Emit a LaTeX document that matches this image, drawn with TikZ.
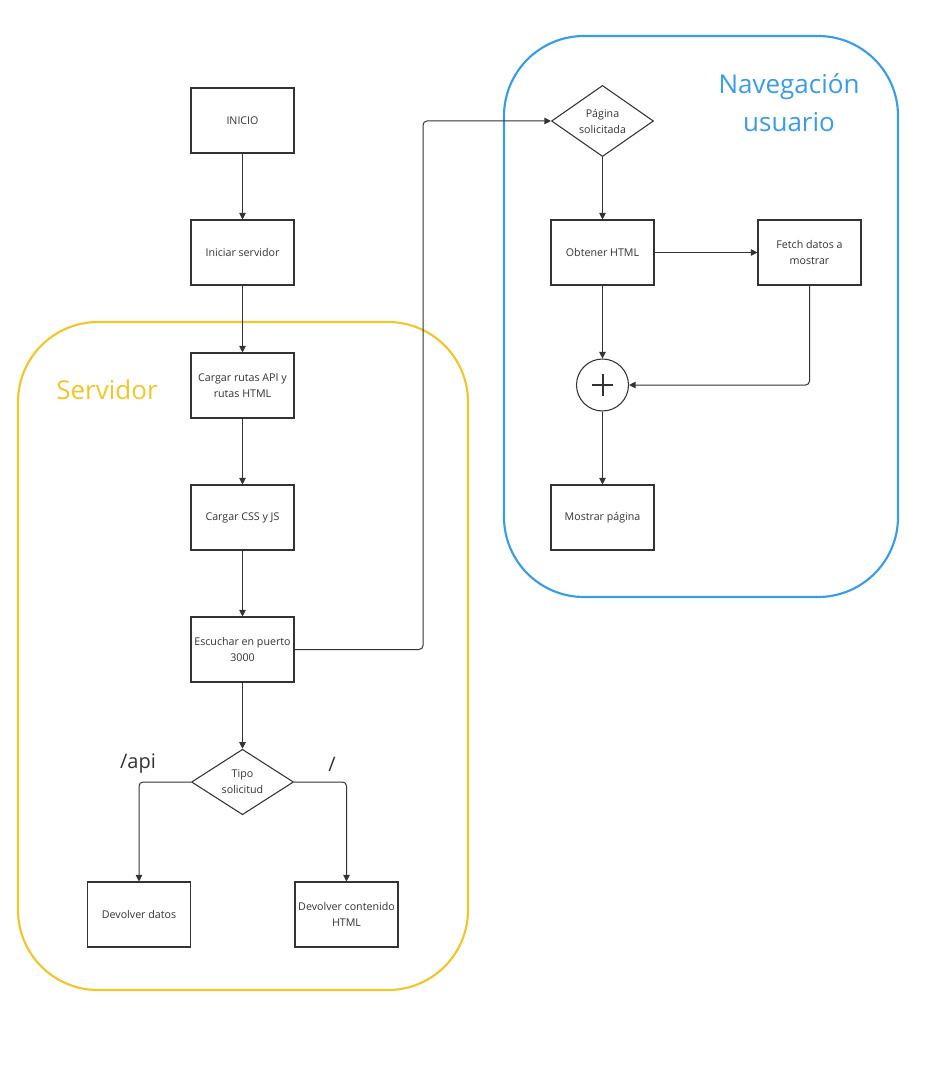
\documentclass[tikz,border=0pt]{standalone}
\usepackage{fontspec}
\setmainfont{Open Sans}
\usetikzlibrary{shapes.geometric,arrows.meta}
\definecolor{srvyellow}{HTML}{F2C52B}
\definecolor{navblue}{HTML}{3A9BE6}
\definecolor{ink}{HTML}{333333}
\begin{document}
\begin{tikzpicture}[x=0.75pt,y=-0.75pt,
  stepbox/.style={draw=ink,line width=0.8pt,fill=white,minimum width=77.25pt,minimum height=48.75pt,
    inner sep=1pt,align=center,font=\fontsize{8}{12}\selectfont,text=ink},
  decision/.style={draw=ink,line width=0.8pt,fill=white,diamond,minimum width=76.5pt,minimum height=48pt,
    inner sep=0pt,align=center,font=\fontsize{8}{12}\selectfont,text=ink},
  flow/.style={draw=ink,line width=0.75pt,rounded corners=3pt,-{Triangle[length=5pt,width=5pt]}},
  group/.style={line width=1.6pt,rounded corners=60pt},
  grouptitle/.style={font=\fontsize{19.5}{28.5}\selectfont,align=center},
  branch/.style={font=\fontsize{15}{18}\selectfont,text=ink}]
\useasboundingbox (0,0) rectangle (925,1080);

% group frames
\draw[group,draw=srvyellow] (18,322) rectangle (468,990);
\draw[group,draw=navblue] (504,36) rectangle (898,597);
\node[grouptitle,text=srvyellow] (srvtitle) at (107,390) {Servidor};
\node[grouptitle,text=navblue] (navtitle) at (789,103) {Navegación\\usuario};

% server flow
\node[stepbox] (inicio) at (242.5,120.5) {INICIO};
\node[stepbox] (iniciar) at (242.5,252.5) {Iniciar servidor};
\node[stepbox] (rutas) at (242.5,385.5) {Cargar rutas API y\\rutas HTML};
\node[stepbox] (css) at (242.5,517.5) {Cargar CSS y JS};
\node[stepbox] (escuchar) at (242.5,649.5) {Escuchar en puerto\\3000};
\node[decision] (tipo) at (242.5,782) {Tipo\\solicitud};
\node[stepbox] (datos) at (139,914.5) {Devolver datos};
\node[stepbox] (html) at (346.5,914.5) {Devolver contenido\\HTML};
\node[branch] (lblapi) at (138,764) {/api};
\node[branch] (lblroot) at (332,764) {/};

% user navigation flow
\node[decision] (pagina) at (602.5,121) {Página\\solicitada};
\node[stepbox] (obtener) at (602.5,252.5) {Obtener HTML};
\node[stepbox] (fetch) at (809.5,252.5) {Fetch datos a\\mostrar};
\node[draw=ink,line width=0.8pt,fill=white,circle,minimum size=39pt,inner sep=0pt] (merge) at (602.5,385) {};
\draw[ink,line width=1.5pt] ([xshift=-8pt]merge.center) -- ([xshift=8pt]merge.center)
  ([yshift=-8pt]merge.center) -- ([yshift=8pt]merge.center);
\node[stepbox] (mostrar) at (602.5,517.5) {Mostrar página};

% connectors
\draw[flow] (inicio) -- (iniciar);
\draw[flow] (iniciar) -- (rutas);
\draw[flow] (rutas) -- (css);
\draw[flow] (css) -- (escuchar);
\draw[flow] (escuchar) -- (tipo);
\draw[flow] (tipo.west) -| (datos.north);
\draw[flow] (tipo.east) -| (html.north);
\draw[flow] (escuchar.east) -- (423,649.5) -- (423,121) -- (pagina.west);
\draw[flow] (pagina) -- (obtener);
\draw[flow] (obtener) -- (fetch);
\draw[flow] (obtener) -- (merge);
\draw[flow] (fetch.south) |- (merge.east);
\draw[flow] (merge) -- (mostrar);
\end{tikzpicture}
\end{document}
